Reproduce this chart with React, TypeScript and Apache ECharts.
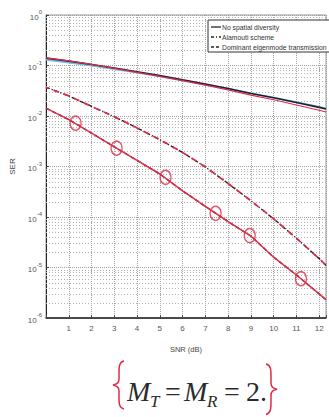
import React, { useEffect, useRef } from "react";
import * as echarts from "echarts";

// ---- data ----
const snrDb = [0, 1, 2, 3, 4, 5, 6, 7, 8, 9, 10, 11, 12, 12.3];
const serNoDiversity = [0.14, 0.122, 0.105, 0.089, 0.075, 0.063, 0.052, 0.043, 0.035, 0.028, 0.023, 0.0185, 0.0148, 0.0138];
const serBlueTrace = [0.13, 0.114, 0.099, 0.085, 0.072, 0.061, 0.051, 0.042, 0.035, 0.0285, 0.0232, 0.0188, 0.0152, 0.0142];
const serInkNoDiversity = [0.142, 0.123, 0.105, 0.088, 0.073, 0.061, 0.05, 0.041, 0.033, 0.026, 0.021, 0.0165, 0.013, 0.012];
const serAlamouti = [0.037, 0.025, 0.0155, 0.0097, 0.0058, 0.0034, 0.0019, 0.00098, 0.00046, 0.00021, 0.000092, 0.000038, 0.000015, 0.000011];
const serDominant = [0.0143, 0.0085, 0.0046, 0.00245, 0.00132, 0.00071, 0.00033, 0.000162, 0.000081, 0.000042, 0.000016, 0.0000071, 0.000003, 0.0000023];
const circleSnr = [1.3, 3.1, 5.25, 7.45, 8.95, 11.2];
const circleSer = [0.0072, 0.0023, 0.00061, 0.000118, 0.000043, 0.000006];
const xTickLabels = ["1", "2", "3", "4", "5", "6", "7", "8", "9", "10", "11", "12"];
const legendNames = ["No spatial diversity", "Alamouti scheme", "Dominant eigenmode transmission"];
const decadeExponents = [-6, -5, -4, -3, -2, -1];
const minorMultipliers = [2, 3, 4, 5, 6, 7, 8, 9];

const pairs = (xs: number[], ys: number[]) => xs.map((x, i) => [x, ys[i]]);

const RED = "#e02a48";
const INK = "#2b2b2b";

echarts.graphic.registerShape(
  "braceLeft",
  echarts.graphic.extendPath("M11,0 C6,1 6,6 6,12 L6,18 C6,22 4,23 0,24 C4,25 6,26 6,30 L6,36 C6,42 6,47 11,48", {})
);
echarts.graphic.registerShape(
  "braceRight",
  echarts.graphic.extendPath("M1,0 C6,1 6,6 6,12 L6,18 C6,22 8,23 12,24 C8,25 6,26 6,30 L6,36 C6,42 6,47 1,48", {})
);

export default function App() {
  const ref = useRef<HTMLDivElement>(null);
  useEffect(() => {
    document.body.style.margin = "0";
    const chart = echarts.init(ref.current!, null, { renderer: "svg" });
    const minorGridValues: number[][] = [];
    decadeExponents.forEach((e) =>
      minorMultipliers.forEach((m) => minorGridValues.push([0, m * Math.pow(10, e)]))
    );
    const labelFont = "Liberation Sans";
    const legendDashes: any[] = [null, [3, 2, 1, 2], [3, 2]];
    const legendGraphics: any[] = [
      {
        type: "rect",
        shape: { x: 208, y: 20, width: 130, height: 32 },
        style: { fill: "#ffffff", stroke: "#333", lineWidth: 1 },
        z: 100,
      },
    ];
    legendNames.forEach((name, i) => {
      const cy = 27 + i * 10;
      legendGraphics.push({
        type: "line",
        shape: { x1: 211, y1: cy, x2: 221, y2: cy },
        style: { stroke: "#222", lineWidth: 1.3, lineDash: legendDashes[i] },
        z: 101,
      });
      legendGraphics.push({
        type: "text",
        x: 222,
        y: cy,
        style: {
          text: name,
          fontSize: 6.8,
          fontFamily: labelFont,
          fill: "#333",
          verticalAlign: "middle",
          align: "left",
        },
        z: 101,
      });
    });
    const serif = "Liberation Serif";
    chart.setOption({
      animation: false,
      backgroundColor: "#ffffff",
      textStyle: { fontFamily: labelFont },
      grid: { left: 46, right: -7, top: 15, bottom: 99, show: true, borderColor: "#999", borderWidth: 1 },
      xAxis: {
        type: "value",
        min: 0,
        max: 12.3,
        interval: 1,
        name: "SNR (dB)",
        nameLocation: "middle",
        nameGap: 27,
        nameTextStyle: { fontSize: 7.5, color: "#444" },
        axisLine: { show: true, lineStyle: { color: "#222", width: 1.5 } },
        axisTick: { inside: true, length: 3, lineStyle: { color: "#444" } },
        axisLabel: {
          fontSize: 8,
          color: "#555",
          margin: 6,
          formatter: (v: number) => {
            const i = xTickLabels.indexOf(String(v));
            return i >= 0 ? xTickLabels[i] : "";
          },
        },
        splitLine: { show: true, lineStyle: { type: "dotted", color: "#a0a0a0", width: 1 } },
      },
      yAxis: {
        type: "log",
        logBase: 10,
        min: 1e-6,
        max: 1,
        name: "SER",
        nameLocation: "middle",
        nameGap: 30,
        nameTextStyle: { fontSize: 8, color: "#444" },
        axisLine: { show: true, lineStyle: { color: "#222", width: 1 } },
        axisTick: { inside: true, length: 3, lineStyle: { color: "#444" } },
        axisLabel: {
          margin: 4,
          formatter: (v: number) => `{b|10}{s|${Math.round(Math.log10(v))}}`,
          rich: {
            b: { fontSize: 8, color: "#555", lineHeight: 12, verticalAlign: "bottom" },
            s: { fontSize: 6, color: "#555", lineHeight: 7, verticalAlign: "top" },
          },
        },
        splitLine: { show: true, lineStyle: { type: "dotted", color: "#a0a0a0", width: 1 } },
      },
      series: [
        {
          name: "minor-grid",
          type: "custom",
          silent: true,
          z: 1,
          data: minorGridValues,
          renderItem: (params: any, api: any) => {
            const cs = params.coordSys;
            const p = api.coord([0, api.value(1)]);
            const y = Math.round(p[1]) + 0.5;
            return {
              type: "line",
              shape: { x1: cs.x, y1: y, x2: cs.x + cs.width, y2: y },
              style: { stroke: "#b4b4b4", lineWidth: 1, lineDash: [1, 2] },
            };
          },
        },
        {
          name: "blue-trace",
          type: "line",
          data: pairs(snrDb, serBlueTrace),
          symbol: "none",
          z: 2,
          lineStyle: { color: "#74bde6", width: 1.8 },
        },
        {
          name: legendNames[0],
          type: "line",
          data: pairs(snrDb, serNoDiversity),
          symbol: "none",
          z: 3,
          lineStyle: { color: "#1e2230", width: 1.6 },
        },
        {
          name: legendNames[1],
          type: "line",
          data: pairs(snrDb, serAlamouti),
          symbol: "none",
          z: 3,
          lineStyle: { color: "#222", width: 1.4, type: [4, 2, 1.2, 2] },
        },
        {
          name: legendNames[2],
          type: "line",
          data: pairs(snrDb, serDominant),
          symbol: "none",
          z: 3,
          lineStyle: { color: "#222", width: 1.4, type: [4, 3] },
        },
        {
          name: "ink-nodiv",
          type: "line",
          data: pairs(snrDb, serInkNoDiversity),
          symbol: "none",
          z: 4,
          lineStyle: { color: RED, width: 1.2 },
        },
        {
          name: "ink-alamouti",
          type: "line",
          data: pairs(snrDb, serAlamouti),
          symbol: "none",
          z: 4,
          lineStyle: { color: RED, width: 1.7, type: [6, 5], dashOffset: 3 },
        },
        {
          name: "ink-dominant",
          type: "line",
          data: pairs(snrDb, serDominant),
          symbol: "none",
          z: 4,
          lineStyle: { color: RED, width: 1.5 },
        },
        {
          name: "ink-circles",
          type: "scatter",
          data: pairs(circleSnr, circleSer),
          symbol: "circle",
          symbolSize: [11, 14],
          z: 5,
          itemStyle: { color: "rgba(0,0,0,0)", borderColor: RED, borderWidth: 1.4 },
        },
      ],
      graphic: [
        ...legendGraphics,
        { type: "braceLeft", x: 113, y: 361, style: { fill: "none", stroke: RED, lineWidth: 1.5 } },
        { type: "braceRight", x: 265, y: 364, scaleY: 1.05, style: { fill: "none", stroke: RED, lineWidth: 1.5 } },
        { type: "text", x: 127, y: 377, style: { text: "M", fontSize: 28, fontStyle: "italic", fontFamily: serif, fill: INK } },
        { type: "text", x: 150, y: 393, style: { text: "T", fontSize: 17, fontStyle: "italic", fontFamily: serif, fill: INK } },
        { type: "text", x: 165, y: 377, style: { text: "=", fontSize: 28, fontFamily: serif, fill: INK } },
        { type: "text", x: 184, y: 377, style: { text: "M", fontSize: 28, fontStyle: "italic", fontFamily: serif, fill: INK } },
        { type: "text", x: 207, y: 393, style: { text: "R", fontSize: 17, fontStyle: "italic", fontFamily: serif, fill: INK } },
        { type: "text", x: 224, y: 377, style: { text: "=", fontSize: 28, fontFamily: serif, fill: INK } },
        { type: "text", x: 246, y: 377, style: { text: "2.", fontSize: 28, fontFamily: serif, fill: INK } },
      ],
    });
    return () => chart.dispose();
  }, []);
  return <div ref={ref} style={{ width: 329, height: 417 }} />;
}
